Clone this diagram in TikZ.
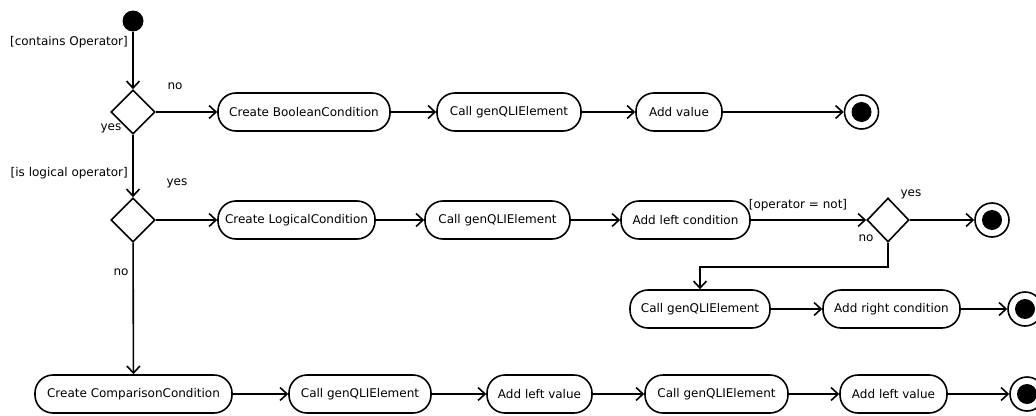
\documentclass[tikz,border=0pt]{standalone}
\usepackage{fontspec}
\setmainfont{DejaVu Sans}
\usetikzlibrary{arrows.meta,shapes.geometric}

\tikzset{
  base/.style={font=\fontsize{12}{14}\selectfont},
  act/.style={base, draw, line width=1.6pt, rectangle, rounded corners=18pt,
              minimum height=38pt, inner sep=0pt},
  choice/.style={draw, line width=1.6pt, diamond, inner sep=0pt,
                 minimum width=44pt, minimum height=44pt},
  initnode/.style={circle, fill=black, inner sep=0pt, minimum size=21pt},
  finalnode/.style={circle, draw, line width=1.6pt, inner sep=0pt, minimum size=34pt,
                    path picture={\fill (path picture bounding box.center) circle (10pt);}},
  flow/.style={line width=1.6pt, -{Straight Barb[length=7pt,width=13pt,line width=1.6pt]}},
  guard/.style={base, inner sep=0pt}
}

\begin{document}
\begin{tikzpicture}[x=1pt,y=-1pt]
\useasboundingbox (0,0) rectangle (1036,415);
\clip (0,0) rectangle (1036,415);

% start and the two top-level decisions
\node[initnode] (start) at (133,21) {};
\node[choice] (d1) at (133,112) {};
\node[choice] (d2) at (133,220) {};

% boolean branch
\node[act, minimum width=172pt] (boolc) at (304,112) {Create BooleanCondition};
\node[act, minimum width=144pt] (gen1) at (509,112) {Call genQLIElement};
\node[act, minimum width=86pt] (addval) at (679,112) {Add value};
\node[finalnode] (end1) at (861.5,112) {};

% logical branch
\node[act, minimum width=157pt] (logc) at (296.5,220) {Create LogicalCondition};
\node[act, minimum width=145pt] (gen2) at (497.5,220) {Call genQLIElement};
\node[act, minimum width=129pt] (addlc) at (685.5,220) {Add left condition};
\node[choice, minimum width=42pt] (d3) at (888,220) {};
\node[finalnode] (end2) at (992,220) {};
\node[act, minimum width=140pt] (gen3) at (700,309) {Call genQLIElement};
\node[act, minimum width=137pt] (addrc) at (891.5,309) {Add right condition};
\node[finalnode] (end3) at (1025,309) {};

% comparison branch
\node[act, minimum width=197pt] (cmpc) at (133.5,394) {Create ComparisonCondition};
\node[act, minimum width=142pt] (gen4) at (360,394) {Call genQLIElement};
\node[act, minimum width=105pt] (addlv1) at (539.5,394) {Add left value};
\node[act, minimum width=143pt] (gen5) at (716.5,394) {Call genQLIElement};
\node[act, minimum width=107pt] (addlv2) at (893.5,394) {Add left value};
\node[finalnode] (end4) at (1027,394) {};

% guards and branch labels
\node[guard, anchor=east] (gcont) at (128,42) {[contains Operator]};
\node[guard] (lno1) at (175,86) {no};
\node[guard] (lyes1) at (111,128) {yes};
\node[guard, anchor=east] (glog) at (128,173) {[is logical operator]};
\node[guard] (lyes2) at (177,183) {yes};
\node[guard] (lno2) at (121,272) {no};
\node[guard] (gnot) at (798,205) {[operator = not]};
\node[guard] (lyes3) at (911,194) {yes};
\node[guard] (lno3) at (866,238) {no};

% connectors
\draw[flow] (start) -- (d1);
\draw[flow] (d1) -- (boolc);
\draw[flow] (boolc) -- (gen1);
\draw[flow] (gen1) -- (addval);
\draw[flow] (addval) -- (end1);

\draw[flow] (d1) -- (d2);
\draw[flow] (d2) -- (logc);
\draw[flow] (logc) -- (gen2);
\draw[flow] (gen2) -- (addlc);
\draw[flow] (addlc) -- (d3);
\draw[flow] (d3) -- (end2);
\draw[flow] (d3.south) -- ++(0,24) -| (gen3.north);
\draw[flow] (gen3) -- (addrc);
\draw[flow] (addrc) -- (end3);

\draw[flow] (d2) -- (cmpc);
\draw[flow] (cmpc) -- (gen4);
\draw[flow] (gen4) -- (addlv1);
\draw[flow] (addlv1) -- (gen5);
\draw[flow] (gen5) -- (addlv2);
\draw[flow] (addlv2) -- (end4);
\end{tikzpicture}
\end{document}
